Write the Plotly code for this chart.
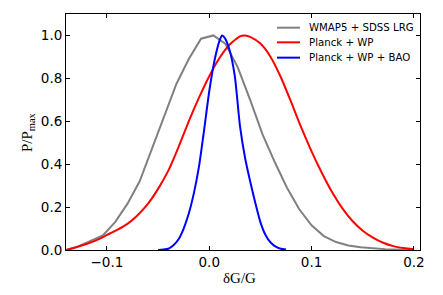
import plotly.graph_objects as go

# WMAP5 + SDSS LRG (coarsely sampled, straight segments)
wmap_x = [-0.14, -0.128, -0.116, -0.104, -0.092, -0.080, -0.068, -0.056, -0.044, -0.032,
          -0.020, -0.008, 0.004, 0.016, 0.028, 0.040, 0.052, 0.064, 0.076, 0.088,
          0.100, 0.112, 0.124, 0.136, 0.148, 0.160, 0.172, 0.184, 0.196]
wmap_y = [0.0, 0.017, 0.042, 0.068, 0.13, 0.215, 0.32, 0.475, 0.63, 0.775,
          0.89, 0.985, 1.0, 0.96, 0.85, 0.70, 0.54, 0.41, 0.29, 0.19,
          0.115, 0.065, 0.037, 0.021, 0.013, 0.008, 0.004, 0.002, 0.001]

# Planck + WP
planck_x = [-0.14, -0.13, -0.12, -0.11, -0.10, -0.09, -0.08, -0.07, -0.06, -0.05,
            -0.04, -0.03, -0.02, -0.01, 0.00, 0.01, 0.02, 0.03, 0.035, 0.04, 0.05,
            0.06, 0.07, 0.08, 0.09, 0.10, 0.11, 0.12, 0.13, 0.14, 0.15,
            0.16, 0.17, 0.18, 0.19, 0.20]
planck_y = [0.0, 0.013, 0.028, 0.046, 0.07, 0.094, 0.122, 0.162, 0.215, 0.285,
            0.37, 0.48, 0.60, 0.71, 0.81, 0.895, 0.958, 0.996, 1.0, 0.993, 0.962,
            0.90, 0.805, 0.69, 0.57, 0.46, 0.36, 0.27, 0.195, 0.135, 0.09,
            0.058, 0.034, 0.018, 0.009, 0.003]

# Planck + WP + BAO
bao_x = [-0.05, -0.045, -0.04, -0.035, -0.03, -0.025, -0.02, -0.015, -0.01, -0.005,
         0.0, 0.005, 0.01, 0.0125, 0.015, 0.02, 0.025, 0.03, 0.035, 0.04,
         0.045, 0.05, 0.055, 0.06, 0.065, 0.07, 0.075]
bao_y = [0.0, 0.002, 0.006, 0.022, 0.05, 0.1, 0.17, 0.265, 0.39, 0.56,
         0.74, 0.88, 0.975, 1.0, 0.99, 0.93, 0.81, 0.58, 0.43, 0.32,
         0.22, 0.13, 0.07, 0.035, 0.016, 0.006, 0.002]

labels = ["WMAP5 + SDSS LRG", "Planck + WP", "Planck + WP + BAO"]
colors = ["#808080", "#ff0000", "#0000ff"]
x_ticks = [-0.1, 0.0, 0.1, 0.2]
y_ticks = [0.0, 0.2, 0.4, 0.6, 0.8, 1.0]
x_title = "δG/G"
y_title = "P/P<sub>max</sub>"

fig = go.Figure()
fig.add_trace(go.Scatter(x=wmap_x, y=wmap_y, mode="lines", name=labels[0],
                         line=dict(color=colors[0], width=2)))
fig.add_trace(go.Scatter(x=planck_x, y=planck_y, mode="lines", name=labels[1],
                         line=dict(color=colors[1], width=2, shape="spline", smoothing=0.6)))
fig.add_trace(go.Scatter(x=bao_x, y=bao_y, mode="lines", name=labels[2],
                         line=dict(color=colors[2], width=2, shape="spline", smoothing=0.6)))

axis_common = dict(showline=True, linecolor="black", linewidth=1, mirror="ticks",
                   ticks="inside", ticklen=4, tickcolor="black", showgrid=False,
                   zeroline=False, automargin=False,
                   tickfont=dict(family="DejaVu Sans", size=13.5, color="black"))

fig.update_xaxes(range=[-0.14, 0.206], tickvals=x_ticks, tickformat=".1f", **axis_common)
fig.update_yaxes(range=[0, 1.1], tickvals=y_ticks, tickformat=".1f", **axis_common)

# axis titles
title_font = dict(family="Liberation Serif", size=15, color="black")
fig.add_annotation(xref="paper", yref="paper", x=0.4915, y=-0.119, text=x_title,
                   showarrow=False, xanchor="center", yanchor="middle", font=title_font)
fig.add_annotation(xref="paper", yref="paper", x=-0.107, y=0.5, text=y_title,
                   showarrow=False, xanchor="center", yanchor="middle", textangle=-90,
                   font=title_font)

# legend drawn as in the reference (short lines, tight rows, no frame)
leg_rows = [0.942, 0.880, 0.815]
for lab, col, yy in zip(labels, colors, leg_rows):
    fig.add_shape(type="line", xref="paper", yref="paper", x0=0.596, x1=0.661, y0=yy, y1=yy,
                  line=dict(color=col, width=2))
    fig.add_annotation(xref="paper", yref="paper", x=0.681, y=yy, text=lab, showarrow=False,
                       xanchor="left", yanchor="middle",
                       font=dict(family="DejaVu Sans", size=10.2, color="black"))

fig.update_layout(
    width=443, height=295,
    margin=dict(l=66, r=23, t=14, b=45),
    paper_bgcolor="white", plot_bgcolor="white",
    showlegend=False,
)

fig.write_html("out.html", config={"displayModeBar": False},
               post_script="document.body.style.margin='0';")
